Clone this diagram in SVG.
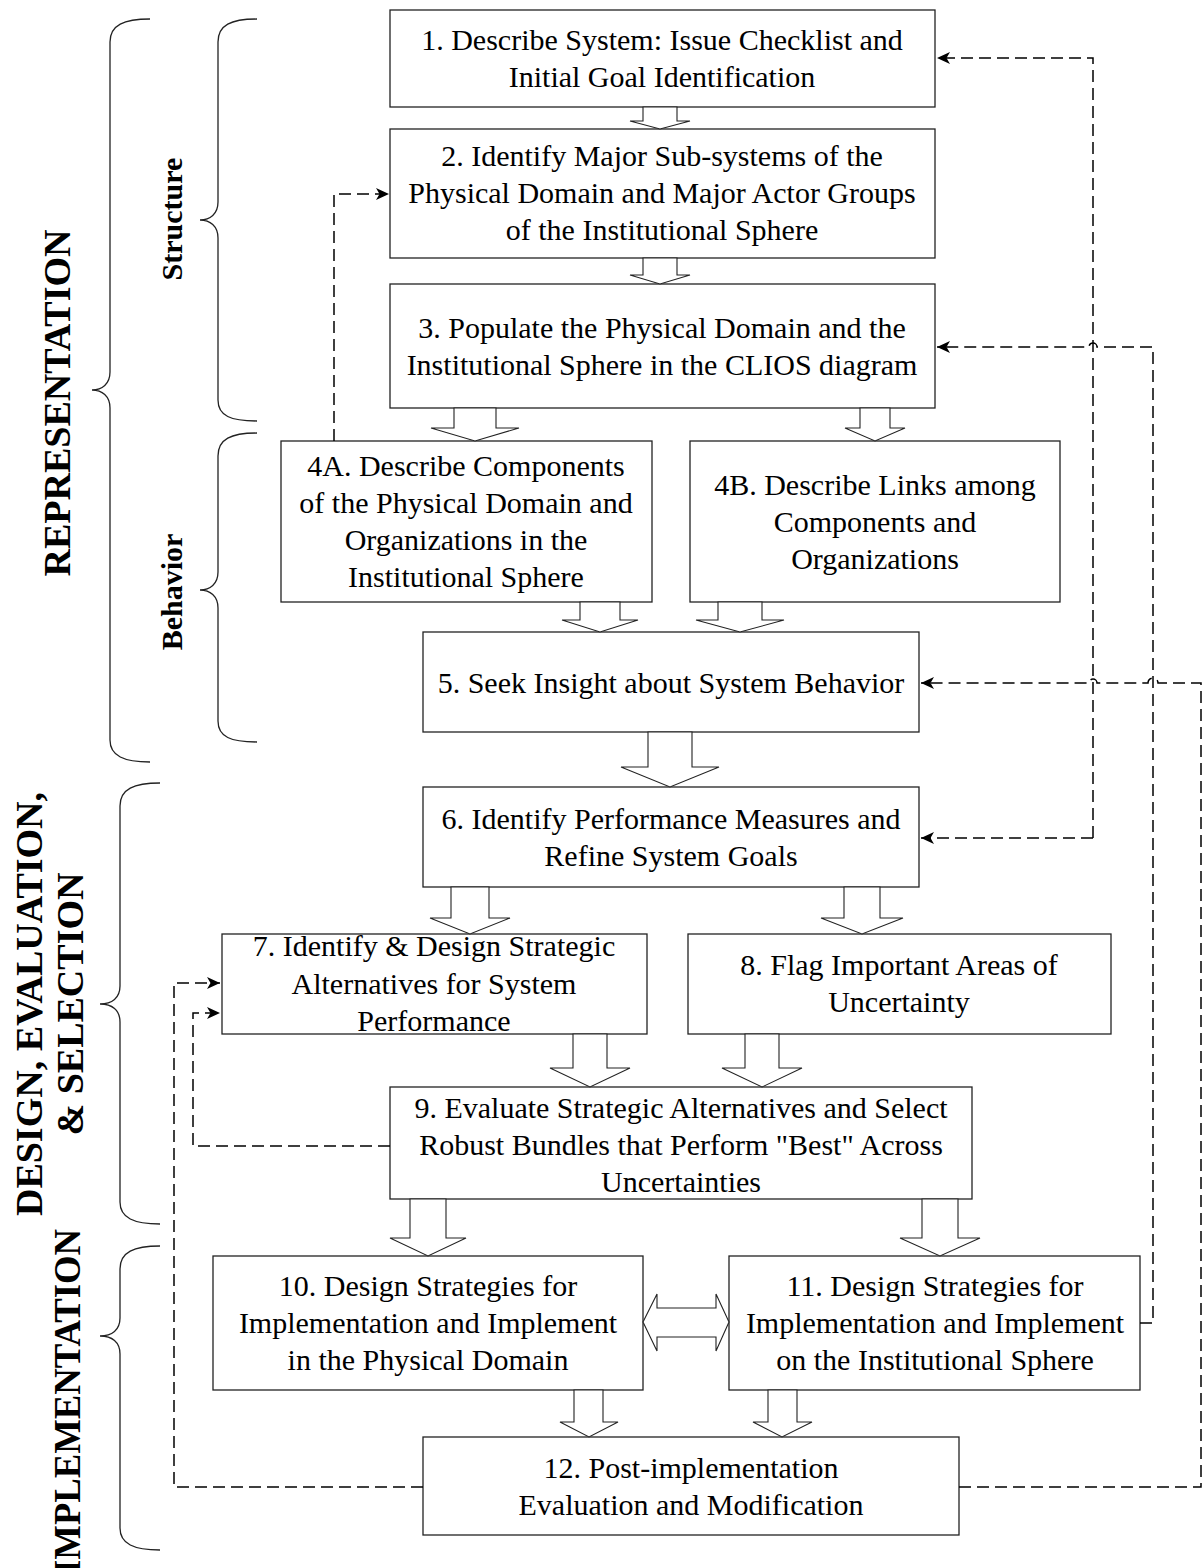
<svg xmlns="http://www.w3.org/2000/svg" width="1203" height="1568" viewBox="0 0 1203 1568">
<defs>
<style>
.box{fill:#fff;stroke:#222;stroke-width:1.3}
.t{font-family:"Liberation Serif","Times New Roman",serif;font-size:30px;fill:#000;text-anchor:middle}
.lbl{font-family:"Liberation Serif","Times New Roman",serif;font-weight:bold;fill:#000;text-anchor:middle}
.big{font-size:38px}
.small{font-size:30px}
.brace{fill:none;stroke:#222;stroke-width:1.3}
.ha{fill:#fff;stroke:#222;stroke-width:1.1;stroke-linejoin:miter}
.dash{fill:none;stroke:#000;stroke-width:1.5;stroke-dasharray:12 6}
</style>
<marker id="ah" markerUnits="userSpaceOnUse" markerWidth="14" markerHeight="12" refX="13" refY="6" orient="auto">
<path d="M0,0 L13,6 L0,12 L3.5,6 Z" fill="#000"/>
</marker>
</defs>
<rect width="1203" height="1568" fill="#fff"/>

<g id="labels">
<text class="lbl big" transform="translate(70,403) rotate(-90)">REPRESENTATION</text>
<text class="lbl small" transform="translate(182,219) rotate(-90)">Structure</text>
<text class="lbl small" transform="translate(182,592) rotate(-90)">Behavior</text>
<text class="lbl big" transform="translate(42,1004) rotate(-90)">DESIGN, EVALUATION,</text>
<text class="lbl big" transform="translate(83,1004) rotate(-90)">&amp; SELECTION</text>
<text class="lbl big" style="text-anchor:start" transform="translate(80,1574) rotate(-90)" textLength="345" lengthAdjust="spacingAndGlyphs">IMPLEMENTATION</text>
</g>

<g id="braces">
<path class="brace" d="M150,19 C124,19 110,25 110,42 L110,372 C110,384 102,390 92,390 C102,390 110,396 110,408 L110,740 C110,756 124,762 150,762"/>
<path class="brace" d="M257,19 C231,19 218,25 218,42 L218,202 C218,214 210,220 200,220 C210,220 218,226 218,238 L218,400 C218,416 231,421 257,421"/>
<path class="brace" d="M257,433 C231,433 218,439 218,456 L218,572 C218,584 210,590 200,590 C210,590 218,596 218,608 L218,721 C218,737 231,742 257,742"/>
<path class="brace" d="M160,783 C134,783 120,789 120,806 L120,986 C120,998 112,1004 100,1004 C112,1004 120,1010 120,1022 L120,1202 C120,1218 134,1224 160,1224"/>
<path class="brace" d="M160,1246 C134,1246 120,1252 120,1269 L120,1318 C120,1330 112,1336 100,1336 C112,1336 120,1342 120,1354 L120,1528 C120,1544 134,1550 160,1550"/>
</g>

<g id="n1"><rect class="box" x="390" y="10" width="545" height="97"/>
<text class="t" x="662" y="50">1. Describe System: Issue Checklist and</text>
<text class="t" x="662" y="87">Initial Goal Identification</text></g>

<g id="n2"><rect class="box" x="390" y="129" width="545" height="129"/>
<text class="t" x="662" y="166">2. Identify Major Sub-systems of the</text>
<text class="t" x="662" y="203">Physical Domain and Major Actor Groups</text>
<text class="t" x="662" y="240">of the Institutional Sphere</text></g>

<g id="n3"><rect class="box" x="390" y="284" width="545" height="124"/>
<text class="t" x="662" y="338">3. Populate the Physical Domain and the</text>
<text class="t" x="662" y="375">Institutional Sphere in the CLIOS diagram</text></g>

<g id="n4a"><rect class="box" x="281" y="441" width="371" height="161"/>
<text class="t" x="466" y="476">4A. Describe Components</text>
<text class="t" x="466" y="513">of the Physical Domain and</text>
<text class="t" x="466" y="550">Organizations in the</text>
<text class="t" x="466" y="587">Institutional Sphere</text></g>

<g id="n4b"><rect class="box" x="690" y="441" width="370" height="161"/>
<text class="t" x="875" y="495">4B. Describe Links among</text>
<text class="t" x="875" y="532">Components and</text>
<text class="t" x="875" y="569">Organizations</text></g>

<g id="n5"><rect class="box" x="423" y="632" width="496" height="100"/>
<text class="t" x="671" y="693">5. Seek Insight about System Behavior</text></g>

<g id="n6"><rect class="box" x="423" y="787" width="496" height="100"/>
<text class="t" x="671" y="829">6. Identify Performance Measures and</text>
<text class="t" x="671" y="866">Refine System Goals</text></g>

<g id="n7"><rect class="box" x="222" y="934" width="425" height="100"/>
<text class="t" x="434" y="956">7. Identify &amp; Design Strategic</text>
<text class="t" x="434" y="994">Alternatives for System</text>
<text class="t" x="434" y="1031">Performance</text></g>

<g id="n8"><rect class="box" x="688" y="934" width="423" height="100"/>
<text class="t" x="899" y="975">8. Flag Important Areas of</text>
<text class="t" x="899" y="1012">Uncertainty</text></g>

<g id="n9"><rect class="box" x="390" y="1087" width="582" height="112"/>
<text class="t" x="681" y="1118">9. Evaluate Strategic Alternatives and Select</text>
<text class="t" x="681" y="1155">Robust Bundles that Perform "Best" Across</text>
<text class="t" x="681" y="1192">Uncertainties</text></g>

<g id="n10"><rect class="box" x="213" y="1256" width="430" height="134"/>
<text class="t" x="428" y="1296">10. Design Strategies for</text>
<text class="t" x="428" y="1333">Implementation and Implement</text>
<text class="t" x="428" y="1370">in the Physical Domain</text></g>

<g id="n11"><rect class="box" x="729" y="1256" width="411" height="134"/>
<text class="t" x="935" y="1296">11. Design Strategies for</text>
<text class="t" x="935" y="1333">Implementation and Implement</text>
<text class="t" x="935" y="1370">on the Institutional Sphere</text></g>

<g id="n12"><rect class="box" x="423" y="1437" width="536" height="98"/>
<text class="t" x="691" y="1478">12. Post-implementation</text>
<text class="t" x="691" y="1515">Evaluation and Modification</text></g>

<g id="connectors">
<polygon class="ha" points="643,107 677,107 677,121 690,121 660,129 630,121 643,121"/>
<polygon class="ha" points="643,258 677,258 677,275 690,275 660,284 630,275 643,275"/>
<polygon class="ha" points="454,408 496,408 496,428 519,428 475,441 431,428 454,428"/>
<polygon class="ha" points="860,408 890,408 890,428 905,428 875,441 845,428 860,428"/>
<polygon class="ha" points="580,602 620,602 620,620 638,620 600,632 562,620 580,620"/>
<polygon class="ha" points="718,602 762,602 762,620 784,620 740,632 696,620 718,620"/>
<polygon class="ha" points="648,732 692,732 692,767 719,767 670,787 621,767 648,767"/>
<polygon class="ha" points="451,887 489,887 489,918 510,918 470,934 430,918 451,918"/>
<polygon class="ha" points="844,887 880,887 880,918 903,918 862,934 821,918 844,918"/>
<polygon class="ha" points="573,1034 607,1034 607,1068 630,1068 590,1087 550,1068 573,1068"/>
<polygon class="ha" points="745,1034 779,1034 779,1068 802,1068 762,1087 722,1068 745,1068"/>
<polygon class="ha" points="410,1199 446,1199 446,1238 466,1238 428,1256 390,1238 410,1238"/>
<polygon class="ha" points="922,1199 958,1199 958,1238 980,1238 940,1256 900,1238 922,1238"/>
<polygon class="ha" points="574,1390 603,1390 603,1422 618,1422 589,1437 560,1422 574,1422"/>
<polygon class="ha" points="768,1390 797,1390 797,1422 812,1422 782,1437 753,1422 768,1422"/>
<polygon class="ha" points="643,1322 657,1294 657,1308 716,1308 716,1294 729,1322 716,1351 716,1337 657,1337 657,1351"/>

<path class="dash" d="M334,441 L334,194 L389,194" marker-end="url(#ah)"/>
<path class="dash" d="M1093,838 L1093,58 L937,58" marker-end="url(#ah)"/>
<path class="dash" d="M1093,838 L921,838" marker-end="url(#ah)"/>
<path class="dash" d="M1140,1323 L1153,1323 L1153,347 L1097,347 A4,4 0 0 0 1089,347 L937,347" marker-end="url(#ah)"/>
<path class="dash" d="M959,1487 L1201,1487 L1201,683 L1158,683 A5,5 0 0 0 1148,683 L1097,683 A4,4 0 0 0 1089,683 L921,683" marker-end="url(#ah)"/>
<path class="dash" d="M423,1487 L174,1487 L174,983 L220,983" marker-end="url(#ah)"/>
<path class="dash" d="M390,1146 L193,1146 L193,1013 L220,1013" marker-end="url(#ah)"/>
</g>
</svg>
